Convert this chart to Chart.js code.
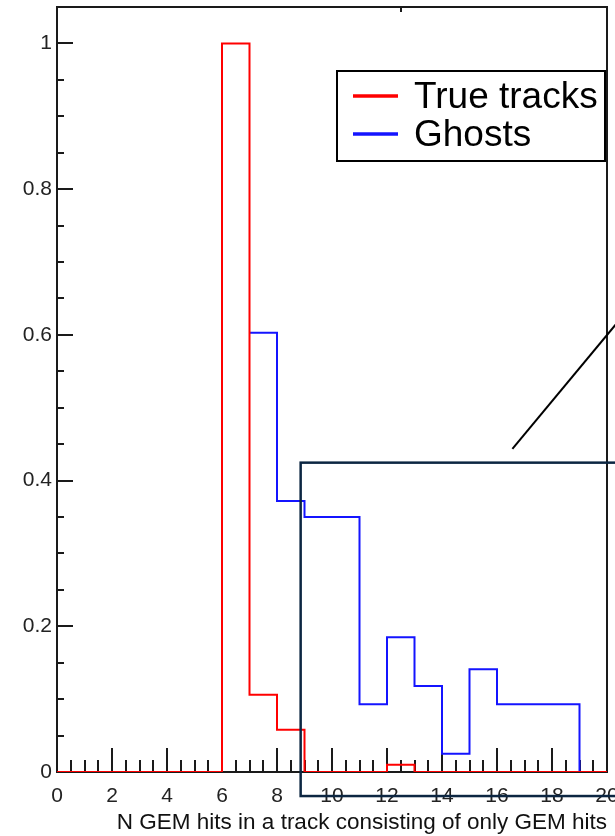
<!DOCTYPE html>
<html>
<head>
<meta charset="utf-8">
<script src="https://cdn.jsdelivr.net/npm/chart.js@4.4.0/dist/chart.umd.min.js"></script>
<style>
  html, body { margin: 0; padding: 0; background: #fff; }
  #wrap { width: 615px; height: 836px; }
</style>
</head>
<body>
<div id="wrap"><canvas id="gemHits"></canvas></div>
<script>
// unit-width bins, low edges
const trueBinLow = [0, 1, 2, 3, 4, 5, 6, 7, 8, 9, 10, 11, 12, 13, 14, 15, 16, 17, 18, 19];
const trueTracks = [0, 0, 0, 0, 0, 0, 1.0, 0.106, 0.058, 0, 0, 0, 0.01, 0, 0, 0, 0, 0, 0, 0];
const ghostBinLow = [7, 8, 9, 10, 11, 12, 13, 14, 15, 16, 17, 18, 19];
const ghosts = [0.603, 0.372, 0.35, 0.35, 0.093, 0.185, 0.118, 0.025, 0.141, 0.093, 0.093, 0.093, 0];
const xMax = 20;

const xTickValues = [0, 2, 4, 6, 8, 10, 12, 14, 16, 18, 20];
const yTickValues = [0, 0.2, 0.4, 0.6, 0.8, 1];
const seriesNames = ['True tracks', 'Ghosts'];
const xTitle = 'N GEM hits in a track consisting of only GEM hits';

// zoom box and the callout line pointing off to the right, in axis units
const zoomBox = { x0: 8.86, x1: 21.5, y0: -0.033, y1: 0.4246 };
const callout = [{ x: 16.56, y: 0.4435 }, { x: 20.4, y: 0.618 }];

const FONT = "'Liberation Sans', Arial, sans-serif";

// histogram outline: one point per bin low edge, closed at the last edge
function histSteps(lowEdges, values, upper) {
  const pts = lowEdges.map((x, i) => ({ x: x, y: values[i] }));
  pts.push({ x: upper, y: values[values.length - 1] });
  return pts;
}

const rootFrame = {
  id: 'rootFrame',
  beforeDatasetsDraw(chart) {
    const ctx = chart.ctx;
    const a = chart.chartArea;
    const xs = chart.scales.x, ys = chart.scales.y;
    ctx.save();
    ctx.strokeStyle = '#1a1a1a';
    ctx.lineWidth = 2;
    ctx.beginPath();
    // inward ticks along x: major every 2, minor every 0.5
    for (let v = 0.5; v <= xMax; v += 0.5) {
      const px = Math.round(xs.getPixelForValue(v));
      const len = (v % 2 === 0) ? 24 : 12;
      ctx.moveTo(px, a.bottom);
      ctx.lineTo(px, a.bottom - len);
    }
    // inward ticks along y: major every 0.2, minor every 0.05
    for (let i = 1; i <= 20; i++) {
      const v = i * 0.05;
      const py = Math.round(ys.getPixelForValue(v));
      const len = (i % 4 === 0) ? 16 : 7;
      ctx.moveTo(a.left, py);
      ctx.lineTo(a.left + len, py);
    }
    // stray tick hanging from the top edge
    const tx = Math.round(xs.getPixelForValue(12.5));
    ctx.moveTo(tx, a.top);
    ctx.lineTo(tx, a.top + 5);
    ctx.stroke();
    ctx.strokeRect(a.left, a.top, a.right - a.left, a.bottom - a.top);
    ctx.restore();
  },
  afterDatasetsDraw(chart) {
    const ctx = chart.ctx;
    const xs = chart.scales.x, ys = chart.scales.y;
    ctx.save();

    // zoom box
    ctx.strokeStyle = 'rgb(12,38,66)';
    ctx.lineWidth = 2.5;
    const bx = xs.getPixelForValue(zoomBox.x0), bx1 = xs.getPixelForValue(zoomBox.x1);
    const by = ys.getPixelForValue(zoomBox.y1), by1 = ys.getPixelForValue(zoomBox.y0);
    ctx.strokeRect(bx, by, bx1 - bx, by1 - by);

    // callout line
    ctx.strokeStyle = '#000';
    ctx.lineWidth = 2;
    ctx.beginPath();
    ctx.moveTo(xs.getPixelForValue(callout[0].x), ys.getPixelForValue(callout[0].y));
    ctx.lineTo(xs.getPixelForValue(callout[1].x), ys.getPixelForValue(callout[1].y));
    ctx.stroke();

    // legend box
    ctx.fillStyle = '#fff';
    ctx.fillRect(337, 71, 268, 90);
    ctx.strokeStyle = '#000';
    ctx.lineWidth = 2;
    ctx.strokeRect(337, 71, 268, 90);
    const rows = [96, 134];
    chart.data.datasets.forEach((ds, i) => {
      ctx.strokeStyle = ds.borderColor;
      ctx.lineWidth = 3.5;
      ctx.beginPath();
      ctx.moveTo(353, rows[i]);
      ctx.lineTo(398, rows[i]);
      ctx.stroke();
      ctx.fillStyle = '#000';
      ctx.font = '37px ' + FONT;
      ctx.textBaseline = 'alphabetic';
      ctx.fillText(ds.label, 414, rows[i] + 11.5);
    });
    ctx.restore();
  }
};

new Chart(document.getElementById('gemHits'), {
  type: 'line',
  data: {
    datasets: [
      {
        label: seriesNames[0],
        data: histSteps(trueBinLow, trueTracks, xMax),
        borderColor: 'rgb(255,0,0)',
        borderWidth: 2,
        stepped: 'before',
        pointRadius: 0,
        fill: false
      },
      {
        label: seriesNames[1],
        data: histSteps(ghostBinLow, ghosts, xMax),
        borderColor: 'rgb(20,20,255)',
        borderWidth: 2,
        stepped: 'before',
        pointRadius: 0,
        fill: false
      }
    ]
  },
  options: {
    responsive: true,
    maintainAspectRatio: false,
    animation: false,
    layout: { padding: { top: 7, right: 8, left: 0, bottom: 0 } },
    plugins: {
      legend: { display: false },
      tooltip: { enabled: false }
    },
    scales: {
      x: {
        type: 'linear',
        min: 0,
        max: xMax,
        grid: { display: false, drawTicks: false },
        border: { display: false },
        afterBuildTicks: s => { s.ticks = xTickValues.map(v => ({ value: v })); },
        afterFit: s => { s.height = 64; s.paddingLeft = 0; s.paddingRight = 0; },
        ticks: {
          padding: 12,
          maxRotation: 0,
          autoSkip: false,
          color: '#222',
          font: { family: FONT, size: 21 },
          callback: v => String(v)
        },
        title: {
          display: true,
          text: xTitle,
          align: 'end',
          color: '#111',
          padding: 0,
          font: { family: FONT, size: 22.5 }
        }
      },
      y: {
        min: 0,
        max: 1.05,
        grid: { display: false, drawTicks: false },
        border: { display: false },
        afterBuildTicks: s => { s.ticks = yTickValues.map(v => ({ value: v })); },
        afterFit: s => { s.width = 57; s.paddingTop = 0; s.paddingBottom = 0; },
        ticks: {
          padding: 5,
          autoSkip: false,
          color: '#222',
          font: { family: FONT, size: 21 },
          callback: v => String(v)
        }
      }
    }
  },
  plugins: [rootFrame]
});
</script>
</body>
</html>
